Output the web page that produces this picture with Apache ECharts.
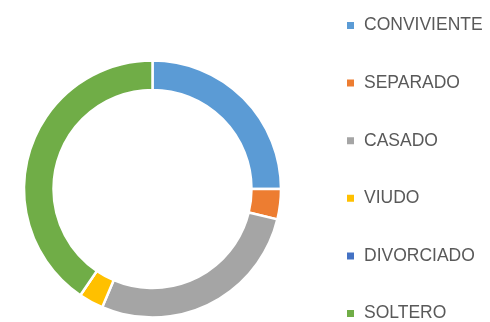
<!DOCTYPE html>
<html>
<head>
<meta charset="utf-8">
<script src="https://cdn.jsdelivr.net/npm/echarts@6/dist/echarts.min.js"></script>
<style>
  html, body { margin: 0; padding: 0; background: #fff; }
  #chart { width: 490px; height: 322px; }
</style>
</head>
<body>
<div id="chart"></div>
<script>
// Estado civil: share of each category (%)
const categories = ['CONVIVIENTE', 'SEPARADO', 'CASADO', 'VIUDO', 'DIVORCIADO', 'SOLTERO'];
const values = [25.0, 3.8, 27.6, 3.1, 0, 40.5];
const colors = ['#5B9BD5', '#ED7D31', '#A5A5A5', '#FFC000', '#4472C4', '#70AD47'];

const chart = echarts.init(document.getElementById('chart'), null, { renderer: 'canvas' });

chart.setOption({
  animation: false,
  color: colors,
  legend: {
    orient: 'vertical',
    left: 345,
    top: 16.5,
    height: 340,
    padding: 0,
    icon: 'rect',
    itemWidth: 9,
    itemHeight: 9,
    itemGap: 39.6,
    data: categories,
    textStyle: {
      fontFamily: 'Liberation Sans',
      fontSize: 17.5,
      color: '#595959',
      lineHeight: 14,
      padding: [0, 0, 0, 4]
    }
  },
  series: [{
    type: 'pie',
    center: [152.5, 189],
    radius: [99, 128.5],
    startAngle: 90,
    clockwise: true,
    avoidLabelOverlap: false,
    label: { show: false },
    labelLine: { show: false },
    emphasis: { disabled: true },
    itemStyle: { borderColor: '#fff', borderWidth: 2.5 },
    data: categories.map((name, i) => ({ name, value: values[i] }))
  }]
});
</script>
</body>
</html>
